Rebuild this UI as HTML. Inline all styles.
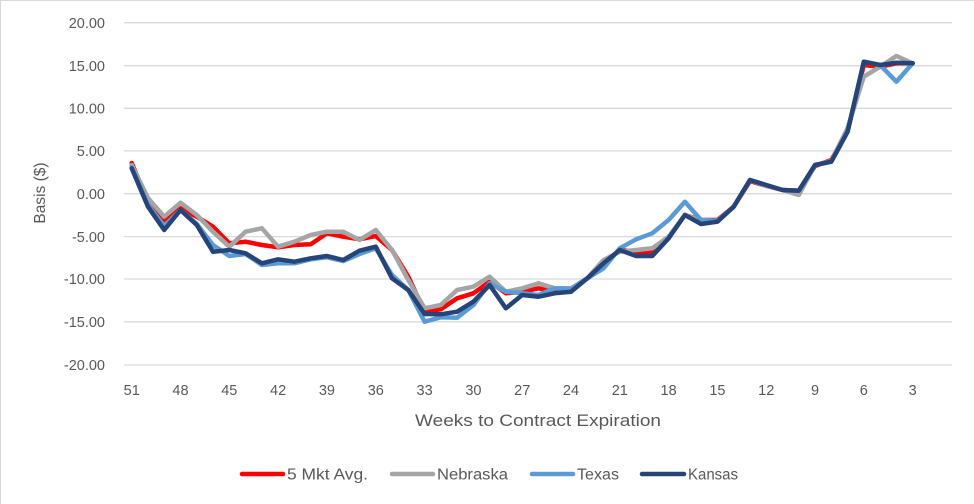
<!DOCTYPE html>
<html><head><meta charset="utf-8"><style>
html,body{margin:0;padding:0;background:#fff;}
svg{display:block;font-family:"Liberation Sans",Arial,sans-serif;}
</style></head><body>
<svg id="c" width="974" height="504" viewBox="0 0 974 504" xmlns="http://www.w3.org/2000/svg">
<rect x="0.5" y="0.5" width="980" height="510" fill="#fff" stroke="#d9d9d9"/>
<g stroke="#d9d9d9" stroke-width="1.3">
<line x1="124" x2="952" y1="22.7" y2="22.7"/>
<line x1="124" x2="952" y1="65.7" y2="65.7"/>
<line x1="124" x2="952" y1="108.3" y2="108.3"/>
<line x1="124" x2="952" y1="150.9" y2="150.9"/>
<line x1="124" x2="952" y1="193.7" y2="193.7"/>
<line x1="124" x2="952" y1="236.6" y2="236.6"/>
<line x1="124" x2="952" y1="279" y2="279"/>
<line x1="124" x2="952" y1="321.8" y2="321.8"/>
<line x1="124" x2="952" y1="365" y2="365"/>
</g>
<g fill="#595959" font-size="14.5" text-anchor="end">
<text x="105" y="28">20.00</text>
<text x="105" y="71">15.00</text>
<text x="105" y="113.5">10.00</text>
<text x="105" y="156">5.00</text>
<text x="105" y="199">0.00</text>
<text x="105" y="242">-5.00</text>
<text x="105" y="284">-10.00</text>
<text x="105" y="327">-15.00</text>
<text x="105" y="370">-20.00</text>
</g>
<g id="xl" fill="#595959" font-size="14.5" text-anchor="middle"></g>
<text x="0" y="0" transform="translate(45,193) rotate(-90)" fill="#595959" font-size="15.5" text-anchor="middle">Basis ($)</text>
<text x="538" y="426" fill="#595959" font-size="16.5" text-anchor="middle" textLength="246" lengthAdjust="spacingAndGlyphs">Weeks to Contract Expiration</text>
<g id="lines" fill="none" stroke-width="4.5" stroke-linejoin="round" stroke-linecap="round"></g>
<g stroke-width="4.5" stroke-linecap="round">
<line x1="242" x2="283" y1="474" y2="474" stroke="#ff0000"/>
<line x1="392" x2="433" y1="474" y2="474" stroke="#a5a5a5"/>
<line x1="532" x2="573" y1="474" y2="474" stroke="#5b9bd5"/>
<line x1="642" x2="684" y1="474" y2="474" stroke="#264478"/>
</g>
<g fill="#595959" font-size="15.5">
<text x="287" y="479.5" textLength="81" lengthAdjust="spacingAndGlyphs">5 Mkt Avg.</text>
<text x="437" y="479.5" textLength="71" lengthAdjust="spacingAndGlyphs">Nebraska</text>
<text x="577" y="479.5" textLength="42" lengthAdjust="spacingAndGlyphs">Texas</text>
<text x="688" y="479.5" textLength="50" lengthAdjust="spacingAndGlyphs">Kansas</text>
</g>
</svg>
<script>
var X=function(i){return 131.7+16.27*i;};
var red=[163,201.7,220,208.3,216.7,226.7,243.3,241.7,245,247.3,245,244.3,233.3,236.7,239.3,236,250,276.7,311.7,309.3,298.3,293.3,281.7,293.3,291.7,288.3,291.7,290,278.3,263.3,250,251.7,252.7,237.3,215,220,220,206.7,181,186,190,190.7,166,160,131,65,66.7,63.3,63.3];
var gray=[165,198,216.7,202.7,215,231.7,246.7,231.7,228.3,246.7,241.7,235,231.7,231.7,240,230,250,280,308.3,305,290,286.7,276.7,291.7,288.3,283.3,288.3,288.3,278.3,260,251.7,250,248.3,236.7,215,221,221,206.7,180,186,190,195,165,161,128,76.7,66.7,56,63.3];
var dark=[168.3,206.7,230,210,225,251.7,250,253.3,263.3,259.3,261.7,258.3,256,260,250.7,246.7,278.3,290,314,314.3,311.7,301.7,285,308.3,295,296.7,293.3,291.7,278.3,263.3,250,256,256,238.3,215,224,221.7,206.7,180,185,190,190.7,165,161.7,131.7,61.7,65,62.7,63.3];
var light=dark.slice();
var lo={0:167,1:205,2:226,3:210,4:224,5:245,6:256,7:254,8:265,9:263.3,10:263.3,11:259.3,12:257.3,13:261,14:254,15:248.3,16:275,17:290,18:321.7,19:317.3,20:317.7,21:305,22:283.3,23:291.7,24:293.3,25:295,26:288.3,27:289.3,28:278.3,29:268.3,30:248.3,31:239.3,32:233.3,33:220,34:201.7,35:220,36:220.7,47:81.7};
for(var k in lo) light[k]=lo[k];
var ns="http://www.w3.org/2000/svg";
var g=document.getElementById("lines");
[[red,"#ff0000"],[gray,"#a5a5a5"],[light,"#5b9bd5"],[dark,"#264478"]].forEach(function(s){
 var p=document.createElementNS(ns,"polyline");
 p.setAttribute("points",s[0].map(function(y,i){return X(i).toFixed(1)+","+y;}).join(" "));
 p.setAttribute("stroke",s[1]);g.appendChild(p);});
var xl=document.getElementById("xl");
for(var i=0;i<49;i+=3){var t=document.createElementNS(ns,"text");t.setAttribute("x",X(i).toFixed(1));t.setAttribute("y","395");t.textContent=String(51-i);xl.appendChild(t);}
</script>
</body></html>
